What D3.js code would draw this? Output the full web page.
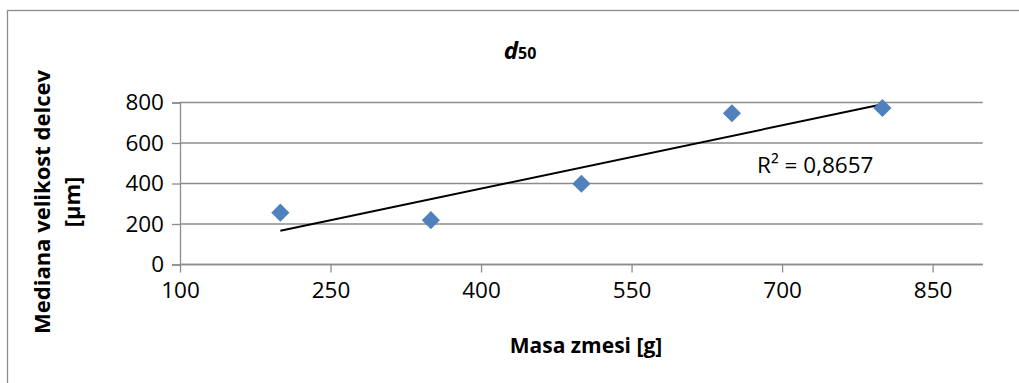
<!DOCTYPE html>
<html>
<head>
<meta charset="utf-8">
<script src="https://cdn.jsdelivr.net/npm/d3@7"></script>
<style>
  body { margin: 0; background: #fff; }
  text { font-family: "Open Sans", sans-serif; fill: #000; }
</style>
</head>
<body>
<script>
// data
var masa = [200, 350, 500, 650, 800];
var d50 = [256, 219, 399, 747, 773];
var xTicks = [100, 250, 400, 550, 700, 850];
var yTicks = [0, 200, 400, 600, 800];
var r2Label = "R² = 0,8657";

var W = 1019, H = 383;
var margin = { top: 102.5, right: 36, bottom: 118.5, left: 180 },
    width = 982.8 - margin.left,
    height = 264.5 - margin.top;

var svg = d3.select("body").append("svg")
    .attr("width", W)
    .attr("height", H);

// outer chart border (right and bottom fall outside the window)
svg.append("rect")
    .attr("x", 7.5).attr("y", 10.5)
    .attr("width", W + 10).attr("height", H + 10)
    .attr("fill", "none")
    .attr("stroke", "#8c8c8c")
    .attr("stroke-width", 1.3);

var g = svg.append("g")
    .attr("transform", "translate(" + margin.left + "," + margin.top + ")");

var xScale = d3.scaleLinear().domain([100, 900]).range([0, width]);
var yScale = d3.scaleLinear().domain([0, 800]).range([height, 0]);

// horizontal gridlines
g.selectAll(".grid")
    .data(yTicks)
    .enter().append("line")
    .attr("class", "grid")
    .attr("x1", 0).attr("x2", width)
    .attr("y1", d => yScale(d)).attr("y2", d => yScale(d))
    .attr("stroke", "#8c8c8c")
    .attr("stroke-width", 1.3);

// Y axis
var yAxis = d3.axisLeft(yScale).tickValues(yTicks).tickSize(8).tickPadding(8);
var yG = g.append("g").call(yAxis);
yG.select(".domain").attr("stroke", "#8c8c8c").attr("stroke-width", 1.3);
yG.selectAll(".tick line").attr("stroke", "#8c8c8c").attr("stroke-width", 1.3);
yG.selectAll(".tick text")
    .style("font-family", "'Open Sans', sans-serif")
    .style("font-size", "22.5px")
    .attr("fill", "#000");

// X axis
var xAxis = d3.axisBottom(xScale).tickValues(xTicks).tickSize(8).tickPadding(10);
var xG = g.append("g")
    .attr("transform", "translate(0," + height + ")")
    .call(xAxis);
xG.select(".domain").attr("stroke", "#8c8c8c").attr("stroke-width", 1.3)
    .attr("d", "M0,0H" + width);
xG.selectAll(".tick line").attr("stroke", "#8c8c8c").attr("stroke-width", 1.3);
xG.selectAll(".tick text")
    .style("font-family", "'Open Sans', sans-serif")
    .style("font-size", "22.5px")
    .attr("fill", "#000");

// linear trendline from least squares
var mx = d3.mean(masa), my = d3.mean(d50);
var sxy = d3.sum(masa, (x, i) => (x - mx) * (d50[i] - my));
var sxx = d3.sum(masa, x => (x - mx) * (x - mx));
var slope = sxy / sxx, icpt = my - slope * mx;
var xr = d3.extent(masa);

g.append("line")
    .attr("x1", xScale(xr[0])).attr("y1", yScale(slope * xr[0] + icpt))
    .attr("x2", xScale(xr[1])).attr("y2", yScale(slope * xr[1] + icpt))
    .attr("stroke", "#000")
    .attr("stroke-width", 2);

// diamond markers
var diamond = d3.symbol().type(d3.symbolDiamond2).size(210);
g.selectAll(".pt")
    .data(masa)
    .enter().append("path")
    .attr("class", "pt")
    .attr("d", diamond)
    .attr("transform", (d, i) => "translate(" + xScale(d) + "," + yScale(d50[i]) + ")")
    .attr("fill", "#4f81bd");

// R² label
g.append("text")
    .attr("x", xScale(675))
    .attr("y", yScale(453))
    .style("font-size", "22.5px")
    .text(r2Label);

// title d50
var title = svg.append("text")
    .attr("x", 520).attr("y", 59)
    .attr("text-anchor", "middle")
    .style("font-weight", "bold");
title.append("tspan").style("font-style", "italic").style("font-size", "24px").text("d");
title.append("tspan").style("font-size", "16px").text("50");

// axis titles
svg.append("text")
    .attr("x", 586).attr("y", 353)
    .attr("text-anchor", "middle")
    .style("font-weight", "bold")
    .style("font-size", "21px")
    .text("Masa zmesi [g]");

var yTitle = svg.append("text")
    .attr("transform", "translate(50,202) rotate(-90)")
    .attr("text-anchor", "middle")
    .style("font-weight", "bold")
    .style("font-size", "22px");
yTitle.append("tspan").attr("x", 0).attr("y", 0).text("Mediana velikost delcev");
yTitle.append("tspan").attr("x", 0).attr("y", 30).text("[µm]");
</script>
</body>
</html>
